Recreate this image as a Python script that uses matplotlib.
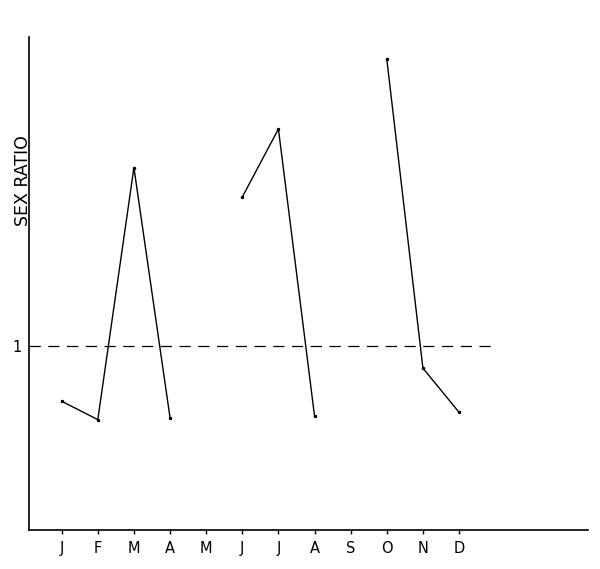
import numpy as np
import matplotlib.pyplot as plt

months = ['J', 'F', 'M', 'A', 'M', 'J', 'J', 'A', 'S', 'O', 'N', 'D']
# sex ratio per month; NaN = no sample (breaks the line)
sex_ratio = [0.70, 0.60, 1.97, 0.61, np.nan, 1.81, 2.18, 0.62, np.nan, 2.56, 0.88, 0.64]
reference_level = 1

x = np.arange(1, len(months) + 1)
y = np.array(sex_ratio, dtype=float)

fig = plt.figure(figsize=(6.0, 5.69), dpi=100)
ax = fig.add_axes([0.048, 0.0685, 0.932, 0.8665])

ax.plot(x, y, color='black', lw=1.0, marker='o', markersize=1.5)
ax.plot([0.09, 12.9], [reference_level, reference_level], color='black', lw=0.9,
        linestyle=(0, (9, 6)))

ax.set_xlim(0.09, 15.57)
ax.set_ylim(0, 2.68)

ax.spines['top'].set_visible(False)
ax.spines['right'].set_visible(False)
ax.spines['left'].set_linewidth(1.2)
ax.spines['bottom'].set_linewidth(1.2)

ax.set_xticks(x)
ax.set_xticklabels(months, fontsize=10.5)
ax.set_yticks([reference_level])
ax.set_yticklabels(['1'], fontsize=10.5)
ax.tick_params(axis='x', direction='out', length=3, width=1, pad=5)
ax.tick_params(axis='y', length=0, pad=5)

ax.text(-0.011, 0.708, 'SEX RATIO', transform=ax.transAxes, rotation=90,
        ha='center', va='center', fontsize=12.5)

fig.savefig('out.png', dpi=100)
plt.close(fig)
